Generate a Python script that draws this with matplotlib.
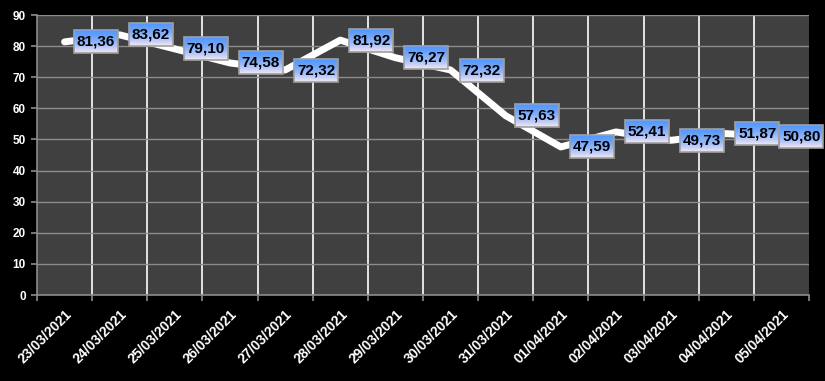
import numpy as np
import matplotlib
matplotlib.use("Agg")
import matplotlib.pyplot as plt
from matplotlib.patches import Rectangle

# data
dates = ["23/03/2021", "24/03/2021", "25/03/2021", "26/03/2021", "27/03/2021",
         "28/03/2021", "29/03/2021", "30/03/2021", "31/03/2021", "01/04/2021",
         "02/04/2021", "03/04/2021", "04/04/2021", "05/04/2021"]
values = [81.36, 83.62, 79.10, 74.58, 72.32, 81.92, 76.27, 72.32,
          57.63, 47.59, 52.41, 49.73, 51.87, 50.80]
y_ticks = [0, 10, 20, 30, 40, 50, 60, 70, 80, 90]

W, H = 825, 381
fig = plt.figure(figsize=(W / 100, H / 100), dpi=100, facecolor="black")
ax = fig.add_axes([37 / W, 1 - 295 / H, (809 - 37) / W, (295 - 15) / H])
ax.set_facecolor("#404040")

n = len(dates)
x = np.arange(n)

# grid: white verticals at category borders, gray horizontals
for b in np.arange(-0.5, n, 1.0)[1:-1]:
    ax.axvline(b, color="white", lw=1.2, zorder=1)
for yv in y_ticks[1:]:
    ax.axhline(yv, color="#8c8c8c", lw=1.0, zorder=1)

ax.plot(x, values, color="white", lw=5, solid_joinstyle="round",
        solid_capstyle="round", zorder=3)

for s in ["top", "right"]:
    ax.spines[s].set_visible(False)
for s in ["left", "bottom"]:
    ax.spines[s].set_color("#8c8c8c")
    ax.spines[s].set_linewidth(1.2)

ax.set_yticks(y_ticks)
ax.set_yticklabels([str(v) for v in y_ticks], color="white",
                   fontsize=8.5, fontweight="bold", family="Liberation Sans")
ax.set_xticks(np.arange(-0.5, n, 1.0), minor=False)
ax.set_xticklabels([])
ax.set_xticks(x, minor=True)
ax.set_xticklabels(dates, minor=True, rotation=45, ha="right", va="top",
                   rotation_mode="anchor", color="white", fontsize=10,
                   fontweight="bold", family="Liberation Sans")
ax.tick_params(axis="x", which="major", length=4, color="#8c8c8c", width=1.2)
ax.tick_params(axis="x", which="minor", length=0, pad=9)
ax.tick_params(axis="y", length=4, color="#8c8c8c", width=1.2, pad=4)

# gradient label boxes
px_x = (809 - 37) / n          # pixels per category
px_y = (295 - 15) / 90.0       # pixels per unit
bw, bh = 44 / px_x, 23 / px_y
grad = np.linspace(0, 1, 64)[:, None] ** 1.6
top = np.array([0.33, 0.60, 1.0])
bot = np.array([0.96, 0.91, 0.97])
img = (top[None, None, :] * (1 - grad[:, :, None]) + bot[None, None, :] * grad[:, :, None])
img = np.repeat(img, 4, axis=1)

for i, v in enumerate(values):
    off = 9 / px_x if i < n - 1 else -2 / px_x
    x0 = i + off
    y0 = v - bh / 2
    ax.imshow(img, extent=[x0, x0 + bw, y0, y0 + bh], aspect="auto",
              zorder=5, clip_on=False, origin="upper", interpolation="bilinear")
    ax.add_patch(Rectangle((x0, y0), bw, bh, fill=False, ec="#a0a0a0",
                           lw=1.2, zorder=6, clip_on=False))
    ax.text(x0 + bw / 2, v, f"{v:.2f}".replace(".", ","), ha="center",
            va="center", fontsize=11, fontweight="bold", color="black",
            family="Liberation Sans", zorder=7, clip_on=False)

ax.set_xlim(-0.5, n - 0.5)
ax.set_ylim(0, 90)

fig.savefig("out.png", dpi=100, facecolor="black")
